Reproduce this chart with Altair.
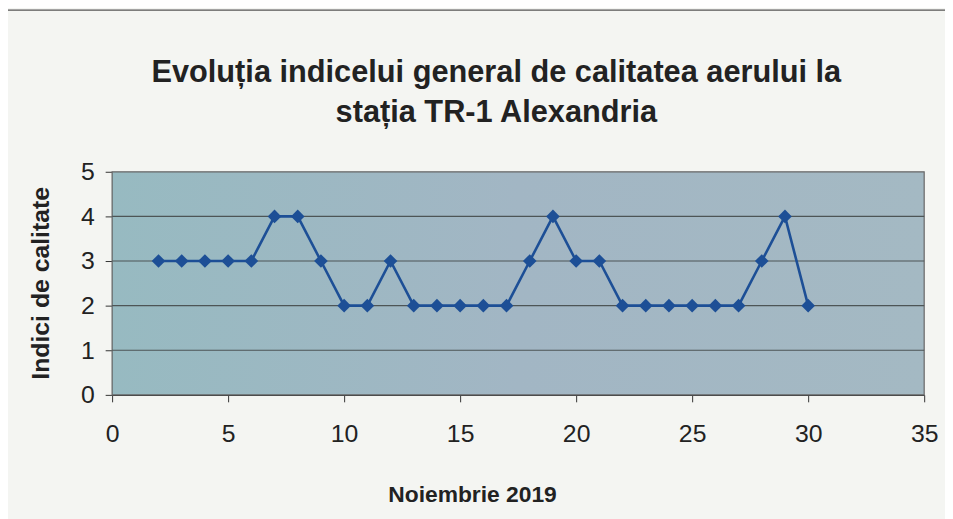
import altair as alt
import pandas as pd

days = list(range(2, 31))
values = [3, 3, 3, 3, 3, 4, 4, 3, 2, 2, 3, 2, 2, 2, 2, 2, 3, 4, 3, 3, 2, 2, 2, 2, 2, 2, 3, 4, 2]
x_ticks = [0, 5, 10, 15, 20, 25, 30, 35]
y_ticks = [0, 1, 2, 3, 4, 5]
grid_levels = [1, 2, 3, 4]

W, H = 819, 225
df = pd.DataFrame({"zi": days, "indice": values})

xscale = alt.Scale(domain=[0, 35], nice=False, zero=False)
yscale = alt.Scale(domain=[0, 5], nice=False)

font = "Liberation Sans"

yaxis = alt.Axis(values=y_ticks, grid=False, title="Indici de calitate",
                 titleX=-72, titleY=112, titleAngle=-90, titleAlign="center",
                 titleBaseline="middle", titleFontSize=25, titleFont=font,
                 titleFontWeight="bold", titleColor="#222",
                 labelFontSize=25, labelFont=font, labelColor="#222", labelPadding=11,
                 labelFlush=False, labelOverlap=False,
                 tickSize=7, tickColor="#333", domainColor="#333", domainWidth=1.2)
xaxis = alt.Axis(values=x_ticks, grid=False, title="Noiembrie 2019",
                 titleX=363, titleY=101, titleAlign="center", titleBaseline="middle",
                 titleFontSize=23, titleFont=font, titleFontWeight="bold", titleColor="#222",
                 labelFontSize=25, labelFont=font, labelColor="#222", labelPadding=20,
                 labelFlush=False, labelOverlap=False,
                 tickSize=7, tickColor="#333", domainColor="#333", domainWidth=1.2)

bg = alt.Chart(alt.Data(values=[{}])).mark_rect(
    color=alt.Gradient(
        gradient="linear",
        stops=[alt.GradientStop(color="#97bac1", offset=0),
               alt.GradientStop(color="#a2b6c4", offset=0.5),
               alt.GradientStop(color="#a4b9c3", offset=1)],
        x1=0, x2=1, y1=0, y2=0),
    stroke="#666", strokeWidth=1.2
).encode(x=alt.value(0), x2=alt.value(W), y=alt.value(0), y2=alt.value(H))

frame = alt.Chart(alt.Data(values=[{}])).mark_rect(
    fill=None, stroke="#555", strokeWidth=1.2
).encode(x=alt.value(7 - 113), x2=alt.value(990 - 113), y=alt.value(8 - 171), y2=alt.value(560 - 171))

grid = alt.Chart(pd.DataFrame({"g": grid_levels})).mark_rule(
    color="#4d5556", strokeWidth=1.2
).encode(y=alt.Y("g:Q", scale=yscale, axis=yaxis))

base = alt.Chart(df).encode(
    x=alt.X("zi:Q", scale=xscale, axis=xaxis),
    y=alt.Y("indice:Q", scale=yscale, axis=yaxis),
)

line = base.mark_line(color="#1d4f96", strokeWidth=2.6)
pts = base.mark_point(shape="diamond", filled=True, size=190, color="#1d4f96", opacity=1)

chart = alt.layer(frame, bg, grid, line, pts).properties(
    width=W, height=H,
    autosize=alt.AutoSizeParams(type="none"),
    padding={"left": 105, "top": 163, "right": 21, "bottom": 123},
    background="#f4f5f2",
    title=alt.TitleParams(
        text=["Evoluția indicelui general de calitatea aerului la", "stația TR-1 Alexandria"],
        font=font, fontSize=31, fontWeight="bold", color="#222",
        anchor="middle", lineHeight=40, offset=46, dx=-22, dy=166),
).configure_view(stroke=None)

chart.save("out.html", embed_options={"renderer": "svg", "actions": False})
